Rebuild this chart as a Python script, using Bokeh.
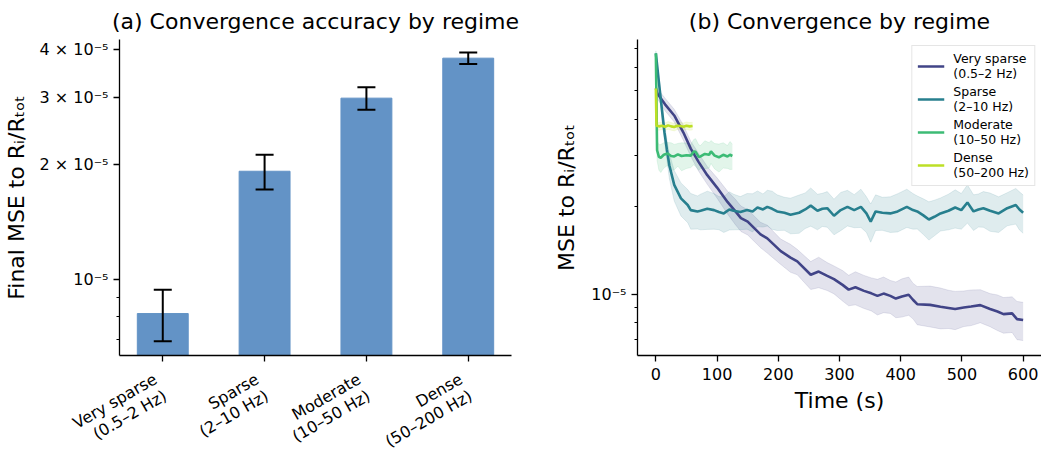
import math
from bokeh.plotting import figure
from bokeh.layouts import row, column
from bokeh.core.properties import value
from bokeh.models import (Range1d, FixedTicker, CustomJSTickFormatter, ColumnDataSource,
                          Whisker, TeeHead, Legend, LegendItem)
from bokeh.embed import file_html
from bokeh.resources import INLINE

FONT = "DejaVu Sans"

# ---------------- data: panel (a) ----------------
categories = ["Very sparse\n(0.5–2 Hz)", "Sparse\n(2–10 Hz)", "Moderate\n(10–50 Hz)", "Dense\n(50–200 Hz)"]
final_mse = [8.16e-6, 1.92e-5, 2.98e-5, 3.79e-5]
final_std = [1.25e-6, 2.0e-6, 2.0e-6, 1.3e-6]
a_tick_values = [1e-5, 2e-5, 3e-5, 4e-5]
a_tick_labels = ["10⁻⁵", "2 × 10⁻⁵", "3 × 10⁻⁵", "4 × 10⁻⁵"]
a_minor_ticks = [7e-6, 8e-6, 9e-6]

# ---------------- data: panel (b) ----------------
vs_t = [0, 3, 15, 30, 45, 57, 70, 84, 100, 117, 130, 139, 150, 171, 182, 204, 220, 231, 253, 266,
        280, 291, 305, 315, 326, 340, 352, 362, 372, 383, 392, 402, 413, 420, 427, 448, 465, 478,
        489, 503, 515, 530, 546, 558, 568, 582, 590, 600]
vs_mse = [5.10, 4.88, 4.50, 4.12, 3.60, 3.17, 2.85, 2.57, 2.33, 2.08, 1.93, 1.83, 1.78, 1.61, 1.56,
          1.41, 1.34, 1.30, 1.17, 1.20, 1.16, 1.13, 1.08, 1.04, 1.06, 1.03, 1.01, 0.99, 1.008, 0.99,
          0.969, 0.985, 0.999, 0.96, 0.927, 0.922, 0.908, 0.90, 0.892, 0.903, 0.91, 0.92, 0.892,
          0.875, 0.857, 0.862, 0.824, 0.818]
vs_spread = [0.02, 0.04, 0.05, 0.05, 0.06, 0.06, 0.07, 0.07, 0.08, 0.09, 0.10, 0.10, 0.10, 0.10, 0.11,
             0.10, 0.11, 0.10, 0.11, 0.12, 0.11, 0.11, 0.12, 0.12, 0.13, 0.13, 0.13, 0.14, 0.14, 0.13,
             0.14, 0.15, 0.15, 0.14, 0.15, 0.16, 0.16, 0.15, 0.15, 0.14, 0.14, 0.13, 0.13, 0.14, 0.14,
             0.14, 0.15, 0.15]

sp_t = [0, 5, 10, 14, 18, 22, 30, 41, 52, 57, 68, 73, 84, 95, 103, 111, 120, 127, 138, 149, 158, 166,
        175, 182, 190, 198, 210, 220, 234, 244, 253, 264, 272, 280, 291, 302, 313, 324, 335, 344,
        351, 359, 370, 383, 395, 410, 420, 427, 437, 446, 455, 465, 478, 489, 499, 509, 519, 527,
        535, 546, 560, 574, 588, 594, 600]
sp_mse = [6.73, 5.35, 4.30, 3.61, 3.15, 2.78, 2.38, 2.14, 2.03, 1.95, 1.93, 1.94, 1.97, 1.95, 1.92,
          1.90, 1.96, 1.94, 1.92, 1.95, 1.93, 1.99, 1.96, 2.00, 1.97, 1.93, 1.91, 1.88, 1.91, 1.96,
          2.02, 1.94, 1.97, 1.98, 1.865, 1.95, 2.00, 1.95, 2.00, 1.90, 1.78, 1.93, 1.91, 1.90, 1.93,
          2.00, 1.95, 1.93, 1.87, 1.81, 1.85, 1.90, 1.94, 1.99, 1.95, 2.07, 1.93, 1.96, 1.98, 1.94,
          1.90, 1.98, 2.03, 1.96, 1.91]
sp_spread = [0.02, 0.04, 0.06, 0.07, 0.08, 0.10, 0.12, 0.13, 0.13, 0.14, 0.13, 0.14, 0.15, 0.14, 0.13,
             0.14, 0.15, 0.14, 0.13, 0.14, 0.15, 0.14, 0.13, 0.14, 0.15, 0.14, 0.13, 0.14, 0.15, 0.14,
             0.15, 0.14, 0.13, 0.14, 0.14, 0.15, 0.14, 0.13, 0.15, 0.14, 0.15, 0.14, 0.13, 0.14, 0.15,
             0.15, 0.14, 0.13, 0.14, 0.15, 0.14, 0.13, 0.14, 0.15, 0.14, 0.15, 0.14, 0.13, 0.14, 0.15,
             0.14, 0.13, 0.14, 0.15, 0.15]

mo_t = [0, 2, 5, 8, 13, 19, 25, 30, 36, 42, 50, 57, 62, 65, 70, 73, 80, 87, 90, 96, 103, 110, 117, 121, 125]
mo_mse = [6.73, 3.13, 2.97, 2.95, 3.02, 3.05, 2.99, 2.98, 3.03, 2.99, 3.01, 3.00, 3.10, 3.09, 2.97,
          2.98, 3.04, 3.02, 3.10, 3.00, 2.96, 3.02, 2.98, 3.02, 2.99]
mo_spread = [0.02, 0.08, 0.10, 0.11, 0.10, 0.09, 0.11, 0.10, 0.09, 0.11, 0.10, 0.09, 0.10, 0.11, 0.10,
             0.09, 0.11, 0.10, 0.09, 0.10, 0.11, 0.10, 0.09, 0.11, 0.10]

de_t = [0, 1, 5, 10, 15, 20, 25, 30, 35, 40, 45, 50, 55, 60]
de_mse = [5.10, 3.80, 3.78, 3.80, 3.77, 3.81, 3.78, 3.76, 3.80, 3.79, 3.77, 3.80, 3.78, 3.79]
de_spread = [0.01, 0.03, 0.03, 0.03, 0.03, 0.03, 0.03, 0.03, 0.03, 0.03, 0.03, 0.03, 0.03, 0.03]

series_labels = ["Very sparse\n(0.5–2 Hz)", "Sparse\n(2–10 Hz)", "Moderate\n(10–50 Hz)", "Dense\n(50–200 Hz)"]
series_colors = ["#414487", "#277f8e", "#3cbb75", "#bddf26"]
MSE_SCALE = 1e-5

b_x_ticks = [0, 100, 200, 300, 400, 500, 600]
b_major = [1e-5]
b_major_labels = ["10⁻⁵"]
b_minor = [6e-6, 7e-6, 8e-6, 9e-6, 2e-5, 3e-5, 4e-5, 5e-5, 6e-5, 7e-5]

BAR_COLOR = "#6393c6"


def style_axes(p):
    p.outline_line_color = None
    p.xgrid.visible = False
    p.ygrid.visible = False
    p.background_fill_color = "white"
    p.border_fill_color = "white"
    for ax in (p.xaxis, p.yaxis):
        ax.axis_line_color = "black"
        ax.axis_line_width = 1.3
        ax.major_tick_line_color = "black"
        ax.minor_tick_line_color = "black"
        ax.major_tick_line_width = 1.3
        ax.minor_tick_line_width = 1.0
        ax.major_tick_out = 6
        ax.major_tick_in = 0
        ax.minor_tick_out = 3
        ax.minor_tick_in = 0
        ax.major_label_text_font = FONT
        ax.major_label_text_font_size = "16px"
        ax.major_label_text_color = "black"
        ax.axis_label_text_font = FONT
        ax.axis_label_text_font_size = "22px"
        ax.axis_label_text_font_style = "normal"
        ax.axis_label_text_color = "black"
    p.title.text_font = FONT
    p.title.text_font_size = "22px"
    p.title.text_font_style = "normal"
    p.title.text_color = "black"
    p.title.align = "center"
    p.title.standoff = 12


# ---------------- panel (a) ----------------
A_W, A_H = 548, 451
A_LEFT, A_RIGHT, A_TOP = 119, 37, 38
A_AXIS_H = 8           # space for the x ticks under the bars
A_LABEL_H = 88         # strip holding the rotated category names
A_XR = (-0.425, 3.425)

p1 = figure(width=A_W, height=A_H - A_LABEL_H, y_axis_type="log",
            x_range=Range1d(*A_XR), y_range=Range1d(6.34e-6, 4.24e-5),
            output_backend="svg", toolbar_location=None,
            min_border_left=A_LEFT, min_border_right=A_RIGHT, min_border_top=A_TOP,
            min_border_bottom=A_AXIS_H,
            title="(a) Convergence accuracy by regime")
style_axes(p1)

xs = list(range(len(categories)))
src_a = ColumnDataSource(dict(
    x=xs, top=final_mse,
    lower=[m - s for m, s in zip(final_mse, final_std)],
    upper=[m + s for m, s in zip(final_mse, final_std)],
))
p1.vbar(x="x", top="top", bottom=1e-7, width=0.5, source=src_a,
        fill_color=BAR_COLOR, line_color=BAR_COLOR)
wh = Whisker(base="x", upper="upper", lower="lower", source=src_a,
             line_color="black", line_width=2, level="overlay",
             upper_head=TeeHead(size=18, line_width=2, line_color="black"),
             lower_head=TeeHead(size=18, line_width=2, line_color="black"))
p1.add_layout(wh)

p1.xaxis.ticker = FixedTicker(ticks=xs, minor_ticks=[])
p1.xaxis.formatter = CustomJSTickFormatter(code="return '';")
p1.xaxis.major_label_standoff = 0
p1.xaxis.major_label_text_font_size = "0px"

p1.yaxis.ticker = FixedTicker(ticks=a_tick_values, minor_ticks=a_minor_ticks)
p1.yaxis.formatter = CustomJSTickFormatter(
    args=dict(vals=a_tick_values, labels=a_tick_labels),
    code="""for (let i = 0; i < vals.length; i++) {
              if (Math.abs(tick - vals[i]) < vals[i] * 1e-6) return labels[i];
            }
            return '';""")
p1.yaxis.axis_label = "Final MSE to Rᵢ/Rₜₒₜ"
p1.yaxis.axis_label_standoff = 8

# strip below panel (a) for the rotated category labels (same x scale as the bars)
ppu = (A_W - A_LEFT - A_RIGHT) / (A_XR[1] - A_XR[0])
lab_fig = figure(width=A_W, height=A_LABEL_H,
                 x_range=Range1d(A_XR[0] - A_LEFT / ppu, A_XR[1] + A_RIGHT / ppu),
                 y_range=Range1d(0, 1), x_axis_type=None, y_axis_type=None,
                 output_backend="svg", toolbar_location=None,
                 min_border_left=0, min_border_right=0, min_border_top=0, min_border_bottom=0)
lab_fig.frame_align = False
lab_fig.outline_line_color = None
lab_fig.xgrid.visible = False
lab_fig.ygrid.visible = False

ANG = math.pi / 6
LINE_H = 19.2
line1 = [c.split("\n")[0] for c in categories]
line2 = [c.split("\n")[1] for c in categories]
X0, Y0 = -12, 6
for k, lines in enumerate((line1, line2)):
    lab_fig.text(x=xs, y=[1] * len(xs), text=lines, angle=ANG, angle_units="rad",
                 x_offset=X0 + k * LINE_H * math.sin(ANG),
                 y_offset=Y0 + k * LINE_H * math.cos(ANG),
                 text_align="right", text_baseline="top",
                 text_font=value(FONT), text_font_size="16px", text_color="black")

# ---------------- panel (b) ----------------
p2 = figure(width=493, height=451, y_axis_type="log",
            x_range=Range1d(-30, 630), y_range=Range1d(6.18e-6, 7.51e-5),
            output_backend="svg", toolbar_location=None,
            min_border_left=89, min_border_right=0, min_border_top=37, min_border_bottom=96,
            title="(b) Convergence by regime")
style_axes(p2)

all_series = [(vs_t, vs_mse, vs_spread), (sp_t, sp_mse, sp_spread),
              (mo_t, mo_mse, mo_spread), (de_t, de_mse, de_spread)]
line_renderers = []
for (t, m, s), col in zip(all_series, series_colors):
    mean = [v * MSE_SCALE for v in m]
    lo = [v * (1 - f) for v, f in zip(mean, s)]
    hi = [v * (1 + f) for v, f in zip(mean, s)]
    p2.varea(x=t, y1=lo, y2=hi, fill_color=col, fill_alpha=0.15)
    p2.line(x=t, y=lo, line_color=col, line_alpha=0.12, line_width=1)
    p2.line(x=t, y=hi, line_color=col, line_alpha=0.12, line_width=1)
for (t, m, s), col in zip(all_series, series_colors):
    mean = [v * MSE_SCALE for v in m]
    r = p2.line(x=t, y=mean, line_color=col, line_width=2.6)
    line_renderers.append(r)

p2.xaxis.ticker = FixedTicker(ticks=b_x_ticks, minor_ticks=[])
p2.xaxis.axis_label = "Time (s)"
p2.xaxis.major_label_standoff = 6
p2.yaxis.ticker = FixedTicker(ticks=b_major, minor_ticks=b_minor)
p2.yaxis.formatter = CustomJSTickFormatter(
    args=dict(vals=b_major, labels=b_major_labels),
    code="""for (let i = 0; i < vals.length; i++) {
              if (Math.abs(tick - vals[i]) < vals[i] * 1e-6) return labels[i];
            }
            return '';""")
p2.yaxis.axis_label = "MSE to Rᵢ/Rₜₒₜ"
p2.yaxis.axis_label_standoff = 9

legend = Legend(items=[LegendItem(label=lab, renderers=[r]) for lab, r in zip(series_labels, line_renderers)],
                location="top_right")
legend.label_text_font = FONT
legend.label_text_font_size = "12.5px"
legend.label_text_color = "black"
legend.glyph_width = 27
legend.glyph_height = 30
legend.label_standoff = 9
legend.label_height = 30
legend.spacing = 3
legend.padding = 5
legend.margin = 6
legend.border_line_color = "#cccccc"
legend.border_line_width = 1
legend.background_fill_alpha = 0.85
p2.add_layout(legend)

layout = row(column(p1, lab_fig, spacing=0), p2, spacing=0)
open("out.html", "w").write(file_html(layout, INLINE))
